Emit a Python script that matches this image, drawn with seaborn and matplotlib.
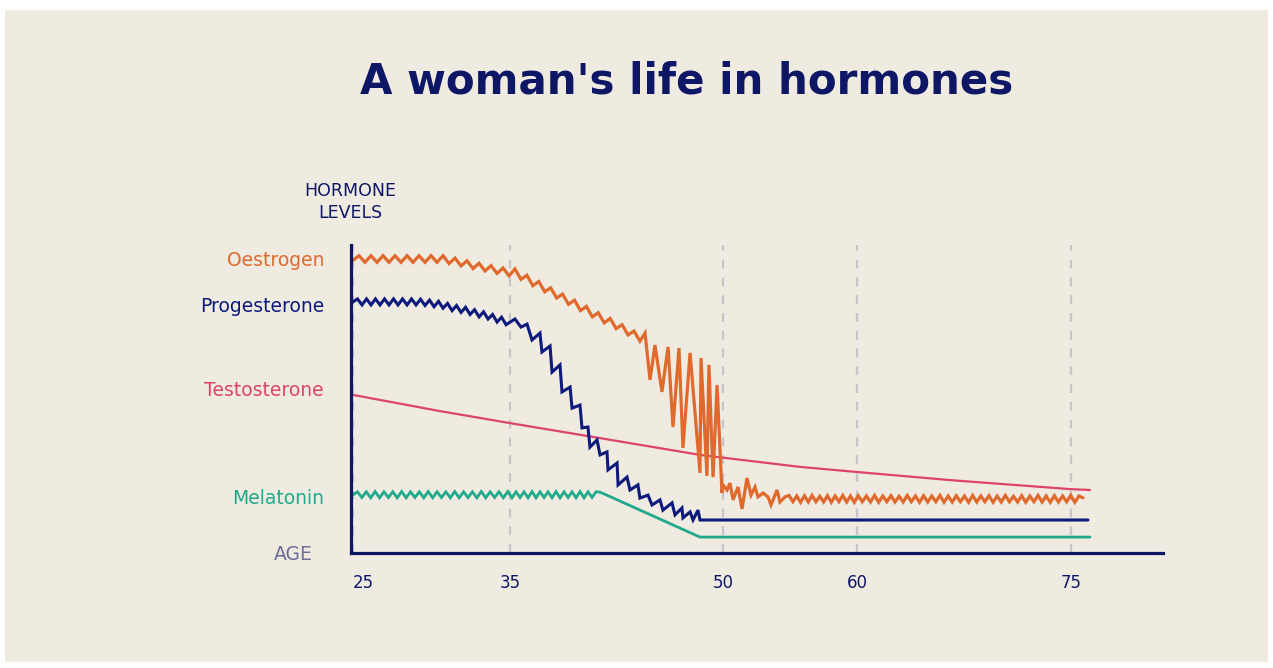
import numpy as np
import pandas as pd
import matplotlib
matplotlib.use("Agg")
import matplotlib.pyplot as plt
from matplotlib.patches import Rectangle
import seaborn as sns

# age axis: tick ages and where they sit on the (uneven, hand drawn) axis
age_ticks = [25, 35, 50, 60, 75]
tick_labels = ["25", "35", "50", "60", "75"]
knot_ages = [0, 25, 35, 50, 60, 75, 100]
knot_pos = [-39.5, 353, 510, 723, 857, 1071, 1427.8]

# Oestrogen: regular zigzag parts use (first age, last age) spans
oes_a_span = (25.0, 34.94)
oes_a = [97.6, 99.1, 96.9, 99.1, 96.9, 99.1, 96.9, 99.1, 96.9, 99.1, 96.9, 99.1, 96.9, 99.1,
         96.9, 99.1, 96.5, 98.3, 95.7, 97.4, 94.8, 96.6, 94.0, 95.8, 93.2, 95.0, 92.4]
oes_b_span = (35.35, 44.15)
oes_b = [94.7, 91.2, 92.6, 89.1, 90.5, 87.1, 88.4, 85.0, 86.3, 82.9, 84.3, 80.8, 82.2, 78.7,
         80.1, 76.7, 78.2, 74.8, 76.1, 72.7, 74.0, 70.6]
oes_c_age = [44.51, 44.86, 45.21, 45.70, 46.13, 46.48, 46.90, 47.18, 47.68, 48.38, 48.45,
             48.87, 49.01, 49.30, 49.58, 49.93]
oes_c = [73.3, 57.7, 69.3, 53.7, 68.7, 42.0, 68.3, 35.0, 66.7, 26.7, 65.0, 25.7, 62.7, 25.3,
         56.0, 20.0]
oes_d_age = [50.00, 50.30, 50.52, 50.75, 51.12, 51.42, 51.79, 52.09, 52.39, 52.61, 52.99,
             53.36, 53.58, 54.03, 54.25, 54.63]
oes_d = [22.7, 21.0, 23.3, 17.7, 22.0, 14.7, 25.0, 19.3, 22.0, 18.7, 20.0, 18.7, 16.0, 21.0,
         17.0, 18.7]
oes_e_span = (54.93, 75.84)
oes_e = [19.2, 17.1, 19.0, 16.9, 19.1, 17.0, 19.2, 17.1, 18.9, 17.0, 19.1, 16.9, 19.0, 17.1,
         19.2, 17.0, 19.0, 16.9, 19.1, 17.1, 19.0, 17.0, 19.2, 16.9, 19.0, 17.1, 19.1, 17.0,
         18.9, 17.0, 19.2, 17.1, 19.0, 16.9, 19.1, 17.0, 19.0, 17.1, 19.2, 16.9, 19.0, 17.0,
         19.1, 17.1, 19.0, 16.9, 19.2, 17.0, 19.0, 17.1, 19.1, 16.9, 19.0, 17.0, 19.2, 17.1,
         18.9, 17.0, 19.1, 16.9, 19.0, 17.1, 19.2, 17.0, 19.0, 16.9, 19.1, 17.0, 19.0, 17.1,
         19.2, 16.9, 19.0, 18.4]

# Progesterone
prog_a_span = (25.0, 34.75)
prog_a = [83.7, 84.7, 82.7, 84.7, 82.7, 84.7, 82.7, 84.7, 82.7, 84.7, 82.7, 84.7, 82.7, 84.7,
          82.7, 84.6, 82.5, 84.3, 82.1, 83.9, 81.6, 83.2, 80.8, 82.5, 80.2, 81.9, 79.5, 81.1,
          78.7, 80.4, 78.0, 79.5, 77.0, 78.6, 76.1]
prog_b_age = [35.35, 35.77, 36.20, 36.55, 37.11, 37.25, 37.82, 37.96, 38.52, 38.66, 39.23,
              39.37, 39.93, 40.07, 40.49, 40.63, 41.13, 41.34, 41.83, 41.90, 42.54, 42.61,
              43.24, 43.45, 44.01, 44.15, 44.72, 45.00, 45.56, 45.77, 46.41, 46.62, 47.11,
              47.18, 47.68, 47.89, 48.24, 48.38, 76.19]
prog_b = [78.0, 75.3, 76.3, 71.0, 73.3, 67.0, 69.0, 60.3, 62.7, 53.7, 55.3, 48.3, 49.3, 41.7,
          42.0, 35.3, 37.7, 32.7, 33.7, 27.7, 30.0, 22.7, 25.3, 21.0, 22.7, 18.3, 19.3, 16.0,
          17.7, 14.3, 16.7, 12.7, 15.0, 11.7, 13.7, 11.0, 14.3, 11.0, 11.0]

# Testosterone
test_age = [25.0, 30.54, 35.0, 41.34, 48.38, 55.75, 60.0, 66.52, 74.93, 76.33]
test_lvl = [52.7, 47.3, 43.3, 38.3, 32.7, 28.7, 27.0, 24.3, 21.3, 21.0]

# Melatonin
mel_a_span = (25.0, 41.06)
mel_a = [19.4, 20.4, 18.5, 20.4, 18.4, 20.5, 18.4, 20.4, 18.5, 20.4, 18.4, 20.5, 18.4, 20.4,
         18.5, 20.4, 18.4, 20.5, 18.4, 20.4, 18.5, 20.4, 18.4, 20.5, 18.4, 20.4, 18.5, 20.4,
         18.4, 20.5, 18.4, 20.4, 18.5, 20.4, 18.4, 20.5, 18.4, 20.4, 18.5, 20.4, 18.4, 20.5,
         18.4, 20.4, 18.5, 20.4, 18.4, 20.5, 18.4, 20.4, 18.5, 20.4, 18.4, 20.5, 18.4, 20.4,
         18.5, 20.4]
mel_b_age = [41.34, 48.38, 76.33]
mel_b = [20.3, 5.3, 5.3]

BG = "#EFEBE1"
NAVY = "#0E1766"
C_OES = "#E06A2E"
C_PROG = "#0D1A7C"
C_TEST = "#DE4468"
C_MEL = "#20A98B"
C_AGE = "#6D6E98"
C_GRID = "#C6C5CB"

W, H = 1273, 668


def fx(x):
    return x / W


def fy(y):
    return 1 - y / H


def series(parts):
    ages, lvls = [], []
    for a, v in parts:
        ages += list(a)
        lvls += list(v)
    return pd.DataFrame({"age": ages, "level": lvls})


def span(s, vals):
    return np.linspace(s[0], s[1], len(vals))


oestrogen = series([(span(oes_a_span, oes_a), oes_a), (span(oes_b_span, oes_b), oes_b),
                    (oes_c_age, oes_c), (oes_d_age, oes_d), (span(oes_e_span, oes_e), oes_e)])
progesterone = series([(span(prog_a_span, prog_a), prog_a), (prog_b_age, prog_b)])
testosterone = series([(test_age, test_lvl)])
melatonin = series([(span(mel_a_span, mel_a), mel_a), (mel_b_age, mel_b)])

sns.set_theme(style="white")
plt.rcParams["font.family"] = ["DejaVu Sans"]

fig = plt.figure(figsize=(W / 100, H / 100), dpi=100, facecolor="white")
# beige card behind everything
fig.patches.append(Rectangle((fx(5), fy(662)), fx(1263), 652 / H, transform=fig.transFigure,
                             facecolor=BG, edgecolor="none", zorder=-10))

ax = fig.add_axes([fx(351), fy(553), fx(1163 - 351), 308 / H])
ax.set_facecolor("none")
ax.set_zorder(1)


def fwd(a):
    return np.interp(a, knot_ages, knot_pos)


def inv(p):
    return np.interp(p, knot_pos, knot_ages)


for df, col, lw in [(testosterone, C_TEST, 1.6), (melatonin, C_MEL, 2.0),
                    (progesterone, C_PROG, 2.2), (oestrogen, C_OES, 2.3)]:
    sns.lineplot(data=df, x="age", y="level", ax=ax, color=col, lw=lw, sort=False,
                 estimator=None, legend=False, solid_joinstyle="miter")

ax.set_xscale("function", functions=(fwd, inv))
ax.set_xlim(inv(351), inv(1163))
ax.set_ylim(0, 102.67)
ax.set_xticks(age_ticks)
ax.set_xticklabels(tick_labels)
ax.set_yticks([])
ax.set_xlabel("")
ax.set_ylabel("")
ax.tick_params(axis="x", length=0, pad=15, labelsize=12, labelcolor=NAVY)
ax.get_xticklabels()[0].set_ha("left")
ax.xaxis.grid(True, linestyle=(0, (4, 4)), color=C_GRID, lw=1.6)
ax.set_axisbelow(True)
for s in ["top", "right"]:
    ax.spines[s].set_visible(False)
for s in ["left", "bottom"]:
    ax.spines[s].set_color(NAVY)
    ax.spines[s].set_linewidth(2.3)

# titles and side labels
title = fig.text(fx(686.5), fy(82), "A woman's life in hormones", ha="center", va="center",
                 fontsize=28, fontweight="bold", color=NAVY)
fig.canvas.draw()
bb = title.get_window_extent()
title.set_fontsize(28 * 653 / bb.width)

fig.text(fx(350), fy(202), "HORMONE\nLEVELS", ha="center", va="center", fontsize=12.5,
         color=NAVY, linespacing=1.25)
for label, y, col in [("Oestrogen", 260, C_OES), ("Progesterone", 306, C_PROG),
                      ("Testosterone", 391, C_TEST), ("Melatonin", 498, C_MEL)]:
    fig.text(fx(324), fy(y), label, ha="right", va="center", fontsize=13.5, color=col)
fig.text(fx(313), fy(554), "AGE", ha="right", va="center", fontsize=13.5, color=C_AGE)

fig.savefig("out.png", dpi=100, facecolor="white")
